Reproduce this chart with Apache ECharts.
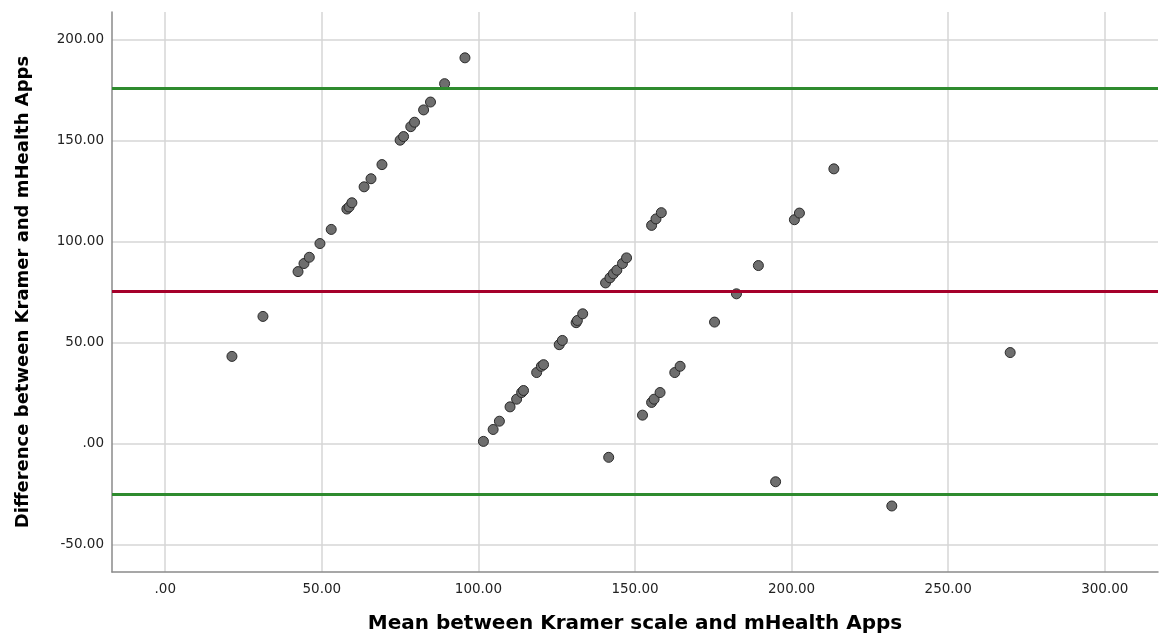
<!DOCTYPE html>
<html>
<head>
<meta charset="utf-8">
<script src="https://cdn.jsdelivr.net/npm/echarts@6/dist/echarts.min.js"></script>
<style>
html,body{margin:0;padding:0;background:#fff;}
#chart{width:1160px;height:639px;}
</style>
</head>
<body>
<div id="chart"></div>
<script>
// Mean between Kramer scale and mHealth Apps (x)
const meanValues = [
  21.3, 31.2, 42.4, 44.3, 46.0, 49.4, 53.0, 58.0, 58.7, 59.6, 63.5, 65.7, 69.2, 75.0, 76.1, 78.4, 79.6, 82.5, 84.7, 89.2, 95.7,
  101.6, 104.7, 106.7, 110.1, 112.2, 113.8, 114.4, 118.6, 120.1, 120.8, 125.8, 126.8, 131.2, 131.6, 133.3,
  140.6, 142.0, 143.1, 144.2, 146.0, 147.3, 141.6, 155.3, 156.7, 158.4,
  152.4, 155.3, 156.1, 158.0, 162.7, 164.4, 175.4, 182.4, 189.4, 194.9, 200.9, 202.5, 213.5, 232.0, 269.8
];
// Difference between Kramer and mHealth Apps (y)
const diffValues = [
  43.1, 62.9, 85.1, 89.1, 92.2, 99.0, 106.0, 116.1, 117.1, 119.2, 127.1, 131.1, 138.1, 150.2, 152.0, 156.9, 159.1, 165.2, 169.1, 178.2, 191.0,
  1.0, 6.9, 11.0, 18.1, 21.9, 25.2, 26.2, 35.1, 38.2, 39.0, 48.9, 51.0, 59.8, 60.9, 64.2,
  79.5, 82.0, 84.0, 85.8, 89.1, 91.9, -6.9, 108.0, 111.2, 114.3,
  14.0, 20.3, 21.9, 25.2, 35.1, 38.2, 60.1, 74.1, 88.1, -19.0, 110.8, 114.1, 136.0, -31.0, 45.0
];
// Mean difference and limits of agreement
const meanDiff = 75.4;
const upperLimit = 176.0;
const lowerLimit = -25.2;
// Tick labels
const xTicks = [0, 50, 100, 150, 200, 250, 300];
const yTicks = [-50, 0, 50, 100, 150, 200];

const points = meanValues.map((x, i) => [x, diffValues[i]]);
const fmt = v => {
  let s = Number(v).toFixed(2);
  if (s === '0.00') return '.00';
  return s;
};

const chart = echarts.init(document.getElementById('chart'), null, {renderer: 'canvas'});
const labelStyle = {color: '#222', fontFamily: 'DejaVu Sans', fontSize: 13.5};

chart.setOption({
  animation: false,
  backgroundColor: '#fff',
  grid: {left: 112, right: 2, top: 12, bottom: 66, containLabel: false},
  xAxis: {
    type: 'value', min: -17, max: 317,
    name: 'Mean between Kramer scale and mHealth Apps',
    nameLocation: 'middle', nameGap: 42,
    nameTextStyle: {color: '#000', fontFamily: 'DejaVu Sans', fontSize: 20, fontWeight: 'bold'},
    axisLine: {show: true, onZero: false, lineStyle: {color: '#8a8a8a', width: 1.5}},
    axisTick: {show: false, customValues: xTicks},
    axisLabel: Object.assign({customValues: xTicks, formatter: fmt, margin: 10}, labelStyle),
    splitLine: {show: true, lineStyle: {color: '#d6d6d6', width: 1.5}}
  },
  yAxis: {
    type: 'value', min: -63.7, max: 213.7,
    name: 'Difference between Kramer and mHealth Apps',
    nameLocation: 'middle', nameGap: 80,
    nameTextStyle: {color: '#000', fontFamily: 'DejaVu Sans', fontSize: 18, fontWeight: 'bold'},
    axisLine: {show: true, onZero: false, lineStyle: {color: '#8a8a8a', width: 1.5}},
    axisTick: {show: false, customValues: yTicks},
    axisLabel: Object.assign({customValues: yTicks, formatter: fmt, margin: 8}, labelStyle),
    splitLine: {show: true, lineStyle: {color: '#d6d6d6', width: 1.5}}
  },
  series: [
    {
      type: 'scatter',
      data: points,
      symbol: 'circle',
      symbolSize: 10,
      z: 2,
      itemStyle: {color: '#6e6e6e', borderColor: '#2a2a2a', borderWidth: 1, opacity: 1}
    },
    {
      type: 'scatter',
      data: [],
      z: 5,
      markLine: {
        silent: true, symbol: 'none', animation: false,
        label: {show: false},
        data: [
          {yAxis: upperLimit, lineStyle: {color: '#2e8b2e', width: 3, type: 'solid'}},
          {yAxis: meanDiff, lineStyle: {color: '#a5002a', width: 3, type: 'solid'}},
          {yAxis: lowerLimit, lineStyle: {color: '#2e8b2e', width: 3, type: 'solid'}}
        ]
      }
    }
  ]
});
</script>
</body>
</html>
